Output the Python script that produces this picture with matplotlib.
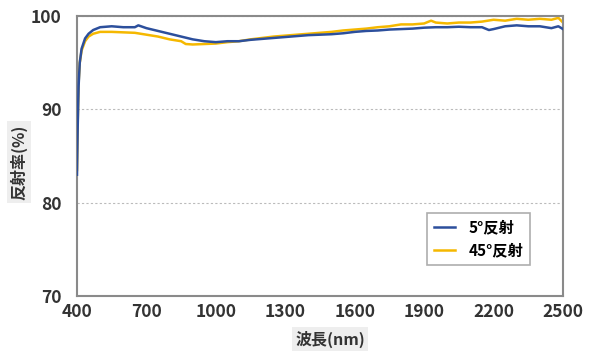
import matplotlib
matplotlib.use("Agg")
import matplotlib.pyplot as plt

plt.rcParams['font.family'] = ['Noto Sans CJK JP', 'DejaVu Sans']

wl_blue = [400, 403, 407, 412, 420, 435, 450, 470, 500, 550, 600, 650, 665, 700, 750, 800, 850,
           900, 950, 1000, 1050, 1100, 1150, 1200, 1250, 1300, 1350, 1400, 1450, 1500,
           1550, 1600, 1650, 1700, 1750, 1800, 1850, 1900, 1950, 2000, 2050, 2100, 2150,
           2180, 2200, 2250, 2300, 2350, 2400, 2450, 2480, 2500]
r_blue = [83.0, 88.0, 92.5, 95.0, 96.5, 97.6, 98.1, 98.5, 98.8, 98.9, 98.8, 98.8, 99.0, 98.7,
          98.4, 98.1, 97.8, 97.5, 97.3, 97.2, 97.3, 97.3, 97.45, 97.55, 97.65, 97.75, 97.85,
          97.95, 98.0, 98.05, 98.15, 98.3, 98.4, 98.45, 98.55, 98.6, 98.65, 98.75, 98.8, 98.8,
          98.85, 98.8, 98.8, 98.5, 98.6, 98.9, 99.0, 98.9, 98.9, 98.7, 98.9, 98.6]

wl_yellow = [400, 403, 407, 412, 420, 435, 450, 470, 500, 550, 600, 650, 700, 750, 800, 850,
             870, 900, 950, 1000, 1050, 1100, 1150, 1200, 1250, 1300, 1350, 1400, 1450, 1500,
             1550, 1600, 1650, 1700, 1750, 1800, 1850, 1900, 1930, 1950, 2000, 2050, 2100,
             2150, 2200, 2250, 2300, 2350, 2400, 2450, 2480, 2500]
r_yellow = [83.5, 88.5, 92.8, 95.0, 96.3, 97.3, 97.8, 98.1, 98.3, 98.3, 98.25, 98.2, 98.0,
            97.8, 97.5, 97.3, 97.0, 96.95, 97.0, 97.05, 97.2, 97.3, 97.5, 97.65, 97.8, 97.9,
            98.0, 98.1, 98.2, 98.3, 98.45, 98.55, 98.65, 98.8, 98.9, 99.1, 99.1, 99.2, 99.5,
            99.3, 99.2, 99.3, 99.3, 99.4, 99.6, 99.5, 99.7, 99.6, 99.7, 99.6, 99.8, 99.3]

x_ticks = [400, 700, 1000, 1300, 1600, 1900, 2200, 2500]
y_ticks = [70, 80, 90, 100]
series_labels = ['5°反射', '45°反射']
xlabel = '波長(nm)'
ylabel = '反射率(%)'

fig = plt.figure(figsize=(5.94, 3.52), dpi=100)
ax = fig.add_axes([0.1296, 0.159, 0.8182, 0.7955])

ax.plot(wl_blue, r_blue, color='#2c4f9c', lw=1.8, label=series_labels[0], zorder=3)
ax.plot(wl_yellow, r_yellow, color='#f5b800', lw=1.8, label=series_labels[1], zorder=2)

ax.set_xlim(400, 2500)
ax.set_ylim(70, 100)
ax.set_xticks(x_ticks)
ax.set_yticks(y_ticks)
ax.tick_params(length=0, labelsize=12.5, colors='#333333')
ax.tick_params(axis='x', pad=5)
ax.tick_params(axis='y', pad=11)
for lab in ax.get_xticklabels() + ax.get_yticklabels():
    lab.set_fontweight('bold')
ax.yaxis.grid(True, linestyle=(0, (2, 2)), color='#bbbbbb', lw=0.8)
ax.set_axisbelow(True)
for s in ax.spines.values():
    s.set_color('#8a8a8a')
    s.set_linewidth(1.5)

leg = ax.legend(loc='lower right', bbox_to_anchor=(0.932, 0.112), frameon=True, fancybox=False,
                handlelength=1.4, handletextpad=0.9, borderpad=0.3, borderaxespad=0,
                labelspacing=0.45, prop={'weight': 'bold', 'size': 11})
leg.get_frame().set_edgecolor('#999999')
leg.get_frame().set_linewidth(1.2)
leg._legend_box.pad = 0.3 * 15.3  # keep vertical padding
leg._legend_handle_box.pad = 0

fig.text(0.5556, 0.037, xlabel, ha='center', va='center', fontsize=11.5, fontweight='bold',
         color='#333333',
         bbox=dict(boxstyle='square,pad=0.2', fc='#eeeeee', ec='none'))
fig.text(0.032, 0.54, ylabel, ha='center', va='center', rotation=90, fontsize=11.5,
         fontweight='bold', color='#333333',
         bbox=dict(boxstyle='square,pad=0.2', fc='#eeeeee', ec='none'))

fig.savefig('out.png', dpi=100)
